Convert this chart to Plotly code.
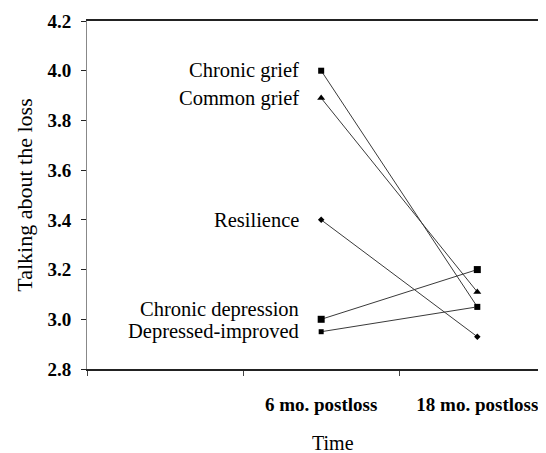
import plotly.graph_objects as go

# ---- data ----
groups = ["Chronic grief", "Common grief", "Resilience", "Chronic depression", "Depressed-improved"]
t6 = [4.00, 3.89, 3.40, 3.00, 2.95]
t18 = [3.05, 3.11, 2.93, 3.20, 3.05]
time_pos = [1, 2]
time_labels = ["6 mo. postloss", "18 mo. postloss"]
y_ticks = [2.8, 3.0, 3.2, 3.4, 3.6, 3.8, 4.0, 4.2]
y_ticklabels = ["2.8", "3.0", "3.2", "3.4", "3.6", "3.8", "4.0", "4.2"]

# ---- styles ----
symbols = ["square", "triangle-up", "diamond", "square", "square"]
sizes = [6, 7, 5, 7, 5]
label_shift = [0, 0, 0, 10, 0]
SERIF = "'Liberation Serif', 'Times New Roman', Times, serif"

fig = go.Figure()
for g, a, b, s, sz in zip(groups, t6, t18, symbols, sizes):
    fig.add_trace(go.Scatter(
        x=time_pos, y=[a, b], mode="lines+markers", name=g,
        line=dict(color="#3a3a3a", width=1),
        marker=dict(symbol=s, size=sz, color="black"),
        showlegend=False,
    ))

for g, a, ys in zip(groups, t6, label_shift):
    fig.add_annotation(
        x=time_pos[0], y=a, xref="x", yref="y", text=g, showarrow=False,
        xanchor="right", yanchor="middle", xshift=-20, yshift=ys,
        font=dict(family=SERIF, size=20.5, color="black"),
    )

fig.add_annotation(
    x=0.536, y=-0.213, xref="paper", yref="paper", text="Time", showarrow=False,
    xanchor="center", yanchor="middle",
    font=dict(family=SERIF, size=20, color="black"),
)

fig.update_layout(
    width=538, height=445,
    margin=dict(l=79, r=0, t=13, b=84),
    paper_bgcolor="white", plot_bgcolor="white",
    font=dict(family=SERIF, color="black"),
    xaxis=dict(
        range=[-0.5, 2.44], showgrid=False, zeroline=False, automargin=False,
        showline=True, linecolor="#222", linewidth=1.5, mirror=True,
        tickvals=time_pos, ticktext=[f"<b>{t}</b>" for t in time_labels],
        ticks="", ticklabelstandoff=17,
        tickfont=dict(family=SERIF, size=19, color="black"),
        minor=dict(tickvals=[-0.5, 0.5, 1.5], ticks="outside", ticklen=5,
                   tickcolor="#444", tickwidth=1),
    ),
    yaxis=dict(
        range=[2.8, 4.2], showgrid=False, zeroline=False, automargin=False,
        showline=True, linecolor="#888", linewidth=1,
        tickvals=y_ticks, ticktext=[f"<b>{t}</b>" for t in y_ticklabels],
        ticks="outside", ticklen=5, tickcolor="#222", tickwidth=1,
        ticklabelstandoff=6,
        tickfont=dict(family=SERIF, size=19, color="black"),
        title=dict(text="Talking about the loss", standoff=8,
                   font=dict(family=SERIF, size=22, color="black")),
    ),
)
fig.write_html("out.html")
